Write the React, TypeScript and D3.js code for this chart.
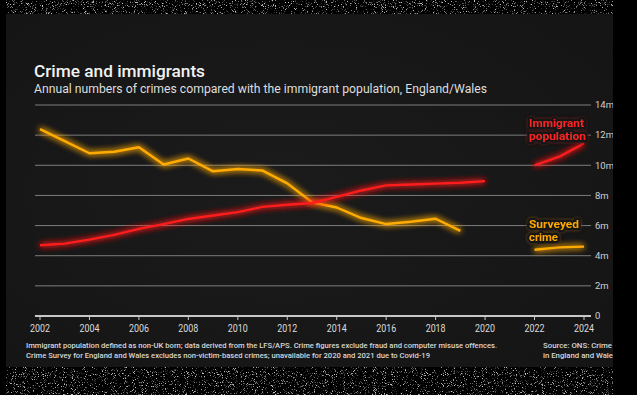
import * as d3 from "d3";

const years = d3.range(2002, 2025);
// millions, null = no data
const immigrantPop = [4.69, 4.8, 5.07, 5.38, 5.78, 6.1, 6.44, 6.67, 6.89, 7.24, 7.38, 7.5, 7.9, 8.33, 8.67, 8.73, 8.78, 8.84, 8.95, null, 10.0, 10.57, 11.45];
const surveyedCrime = [12.4, 11.6, 10.8, 10.9, 11.2, 10.05, 10.45, 9.6, 9.75, 9.65, 8.8, 7.55, 7.2, 6.5, 6.1, 6.25, 6.45, 5.65, null, null, 4.4, 4.55, 4.6];
const yTicks = [0, 2, 4, 6, 8, 10, 12, 14];
const xTicks = d3.range(2002, 2025, 2);

const W = 637;
const H = 395;

export default function App() {
  const x = d3.scaleLinear().domain([2002, 2024]).range([40, 584]);
  const y = d3.scaleLinear().domain([0, 14]).range([316, 105]);

  const line = d3
    .line<number | null>()
    .defined((d) => d != null)
    .x((_, i) => x(years[i]))
    .y((d) => y(d as number));

  const font = "Roboto, 'Noto Sans', sans-serif";

  return (
    <svg width={W} height={H} style={{ position: "absolute", left: 0, top: 0 }} fontFamily={font}>
      <defs>
        <filter id="noise" x="0" y="0" width="100%" height="100%">
          <feTurbulence type="fractalNoise" baseFrequency="1.1" numOctaves="2" seed="7" />
          <feColorMatrix type="matrix" values="0.7 0 0 0 0  0.7 0 0 0 0  0.7 0 0 0 0  6 0 0 0 -3.5" />
        </filter>
        <filter id="glow" x="-10%" y="-30%" width="120%" height="160%">
          <feGaussianBlur stdDeviation="3" result="b" />
          <feMerge>
            <feMergeNode in="b" />
            <feMergeNode in="b" />
            <feMergeNode in="SourceGraphic" />
          </feMerge>
        </filter>
        <filter id="glowTxt" x="-10%" y="-30%" width="120%" height="160%">
          <feGaussianBlur stdDeviation="2" result="b" />
          <feMerge>
            <feMergeNode in="b" />
            <feMergeNode in="SourceGraphic" />
          </feMerge>
        </filter>
        <clipPath id="panelClip">
          <rect x={6} y={14} width={607} height={353} />
        </clipPath>
        <radialGradient id="panelBg" cx="45%" cy="50%" r="70%">
          <stop offset="0%" stopColor="#1b1b1b" />
          <stop offset="100%" stopColor="#151515" />
        </radialGradient>
      </defs>

      {/* textured frame */}
      <rect width={W} height={H} fill="#000" />
      <rect x={6} y={0} width={607} height={14} filter="url(#noise)" />
      <rect x={6} y={367} width={607} height={28} filter="url(#noise)" />

      {/* panel */}
      <rect x={6} y={14} width={607} height={353} fill="url(#panelBg)" />

      <g clipPath="url(#panelClip)">
        <text x={34} y={77} fill="#f2f2f2" fontSize={17} fontWeight={500} textLength={171} lengthAdjust="spacingAndGlyphs">
          Crime and immigrants
        </text>
        <text x={34} y={93} fill="#dedede" fontSize={12} textLength={453} lengthAdjust="spacingAndGlyphs">
          Annual numbers of crimes compared with the immigrant population, England/Wales
        </text>

        {/* grid */}
        {yTicks.map((t) => (
          <g key={t}>
            {t > 0 && (
              <line x1={35} x2={591} y1={y(t)} y2={y(t)} stroke="#7d7d7d" strokeWidth={1} />
            )}
            <text x={595} y={y(t)} dy="0.35em" fill="#d0d0d0" fontSize={9.5}>
              {t === 0 ? "0" : `${t}m`}
            </text>
          </g>
        ))}
        <line x1={35} x2={591} y1={y(0)} y2={y(0)} stroke="#c8c8c8" strokeWidth={2} />
        {xTicks.map((t) => (
          <g key={t}>
            <line x1={x(t)} x2={x(t)} y1={y(0)} y2={y(0) + 4} stroke="#c8c8c8" strokeWidth={1} />
            <text x={x(t)} y={332} textAnchor="middle" fill="#dcdcdc" fontSize={10.5} textLength={20} lengthAdjust="spacingAndGlyphs">
              {t}
            </text>
          </g>
        ))}

        {/* series */}
        <path d={line(surveyedCrime) ?? ""} fill="none" stroke="#ffab00" strokeWidth={2.4} strokeLinejoin="round" filter="url(#glow)" />
        <path d={line(immigrantPop) ?? ""} fill="none" stroke="#ff1c1c" strokeWidth={2.4} strokeLinejoin="round" filter="url(#glow)" />

        {/* labels */}
        <g fontSize={11.5} fontWeight={700} stroke="#171717" strokeWidth={5} paintOrder="stroke" filter="url(#glowTxt)">
          <text x={529} y={127} fill="#ff2424" textLength={55} lengthAdjust="spacingAndGlyphs">Immigrant</text>
          <text x={529} y={139.5} fill="#ff2424" textLength={57} lengthAdjust="spacingAndGlyphs">population</text>
          <text x={529} y={228} fill="#ffa800" textLength={50} lengthAdjust="spacingAndGlyphs">Surveyed</text>
          <text x={529} y={240.5} fill="#ffa800" textLength={29} lengthAdjust="spacingAndGlyphs">crime</text>
        </g>

        {/* footer */}
        <g fill="#d8d8d8" fontSize={8} fontWeight={500}>
          <text x={26} y={348} textLength={471} lengthAdjust="spacingAndGlyphs">
            Immigrant population defined as non-UK born; data derived from the LFS/APS. Crime figures exclude fraud and computer misuse offences.
          </text>
          <text x={26} y={357.5} textLength={404} lengthAdjust="spacingAndGlyphs">
            Crime Survey for England and Wales excludes non-victim-based crimes; unavailable for 2020 and 2021 due to Covid-19
          </text>
          <text x={543} y={348} textLength={69} lengthAdjust="spacingAndGlyphs">Source: ONS: Crime</text>
          <text x={543} y={357.5} textLength={74} lengthAdjust="spacingAndGlyphs">in England and Wales</text>
        </g>
      </g>
    </svg>
  );
}
